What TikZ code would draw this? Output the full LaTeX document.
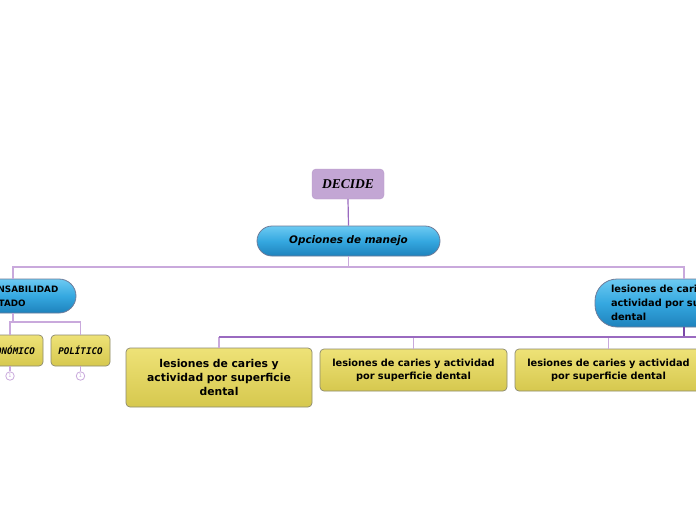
\documentclass[tikz,border=0pt]{standalone}
\usepackage{fontspec}
\setmainfont{DejaVu Sans}
\newfontfamily\serifF{Liberation Serif}
\newfontfamily\monoF{DejaVu Sans Mono}
\begin{document}
\begin{tikzpicture}[x=1pt,y=-1pt,
  bluepill/.style={draw=bluebd, line width=0.8pt, top color=bluetop, bottom color=bluebot, middle color=bluemid, inner sep=0pt, font=\bfseries\itshape\fontsize{10.4}{12}\selectfont},
  yelbox/.style={draw=yelbd, line width=0.7pt, rounded corners=4pt, top color=yeltop, bottom color=yelbot, inner sep=0pt, align=center, font=\bfseries},
  lnk/.style={draw=linklight, line width=1.2pt},
  lnkdark/.style={draw=linkdark, line width=1.6pt},
  numc/.style={circle, draw=linklight, line width=0.8pt, fill=white, minimum size=8.5pt, inner sep=0pt, font=\fontsize{5}{5}\selectfont, text=linklight}
]
\definecolor{bluetop}{HTML}{6CCAF2}
\definecolor{bluemid}{HTML}{35A8E0}
\definecolor{bluebot}{HTML}{1E82BC}
\definecolor{bluebd}{HTML}{6E7C9A}
\definecolor{yeltop}{HTML}{EEE277}
\definecolor{yelbot}{HTML}{D6C84E}
\definecolor{yelbd}{HTML}{8C8A70}
\definecolor{decfill}{HTML}{C3A6D4}
\definecolor{decbd}{HTML}{B89ACB}
\definecolor{linklight}{HTML}{C9A9DC}
\definecolor{linkmid}{HTML}{9A6AC0}
\definecolor{linkdark}{HTML}{7A48A8}
\useasboundingbox (0,0) rectangle (696,520);
\clip (0,0) rectangle (696,520);
\fill[white] (0,0) rectangle (696,520);

% nodes
\node[draw=decbd, fill=decfill, rounded corners=4pt, minimum width=72pt, minimum height=30pt, inner sep=0pt,
  font=\serifF\bfseries\itshape\fontsize{13.5}{15}\selectfont] (decide) at (348,184) {DECIDE};
\node[bluepill, rounded corners=15pt, minimum width=183pt, minimum height=30pt] (opc) at (348.5,241) {Opciones de manejo};

\node[bluepill, rounded corners=17pt, minimum width=126pt, minimum height=34pt, align=left, text width=97pt,
  font=\bfseries\fontsize{8.8}{14}\selectfont] (resp) at (13,296) {RESPONSABILIDAD\\DEL ESTADO};
\node[bluepill, rounded corners=22pt, minimum width=178pt, minimum height=48pt, align=left, text width=146pt,
  font=\bfseries\fontsize{9.8}{14}\selectfont] (lesR) at (684,303) {lesiones de caries y\\actividad por superficie\\dental};

\node[yelbox, minimum width=66pt, minimum height=31pt, font=\monoF\bfseries\itshape\fontsize{9.2}{10}\selectfont] (econ) at (10,350.5) {ECONÓMICO};
\node[yelbox, minimum width=59pt, minimum height=31pt, font=\monoF\bfseries\itshape\fontsize{9.2}{10}\selectfont] (pol) at (80.5,350.5) {POLÍTICO};
\node[numc] (n1) at (10,376) {1};
\node[numc] (n2) at (80.5,376) {1};

\node[yelbox, minimum width=186pt, minimum height=59pt, text width=170pt, font=\bfseries\fontsize{10.8}{14}\selectfont] (c1) at (219,377.5) {lesiones de caries y\\actividad por superficie\\dental};
\node[yelbox, minimum width=187pt, minimum height=42pt, text width=180pt, font=\bfseries\fontsize{9.8}{13}\selectfont] (c2) at (413.5,370) {lesiones de caries y actividad\\por superficie dental};
\node[yelbox, minimum width=187pt, minimum height=42pt, text width=180pt, font=\bfseries\fontsize{9.8}{13}\selectfont] (c3) at (608.5,370) {lesiones de caries y actividad\\por superficie dental};

% connectors
\draw[draw=linkmid, line width=1.2pt] (decide.south) -- (opc.north);
\coordinate (b1) at (348.5,267);
\draw[lnk] (opc.south) -- (b1);
\draw[lnk] (b1) -| (resp.north);
\draw[lnk] (b1) -| (lesR.north);
\coordinate (b2) at (13,322);
\draw[lnk] (resp.south) -- (b2);
\draw[lnk] (b2) -| (econ.north);
\draw[lnk] (b2) -| (pol.north);
\draw[lnk] (econ.south) -- (n1.north);
\draw[lnk] (pol.south) -- (n2.north);
\coordinate (b3) at (684,337);
\coordinate (bend) at (700,337);
\draw[lnkdark] (lesR.south) -- (b3);
\draw[lnk] (b3 -| c1.north) -- (c1.north);
\draw[lnk] (b3 -| c2.north) -- (c2.north);
\draw[lnk] (b3 -| c3.north) -- (c3.north);
\draw[draw=linkmid, line width=1.2pt] (b3 -| c1.north) -- (bend);
\end{tikzpicture}
\end{document}
